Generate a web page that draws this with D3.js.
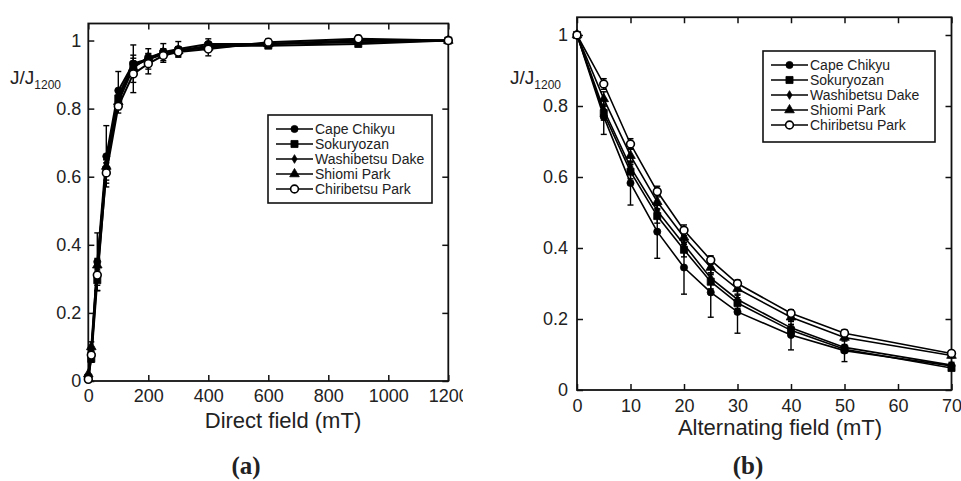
<!DOCTYPE html>
<html>
<head>
<meta charset="utf-8">
<script src="https://cdn.jsdelivr.net/npm/d3@7"></script>
<style>
  body { margin: 0; background: #fff; }
  text { font-family: "Liberation Sans", Arial, sans-serif; fill: #222; }
</style>
</head>
<body>
<div id="chart"></div>
<script>
// ---- data ----
let seriesNames = ["Cape Chikyu", "Sokuryozan", "Washibetsu Dake", "Shiomi Park", "Chiribetsu Park"];
let markerTypes = ["circle", "square", "diamond", "triangle", "open"];

// panel (a): direct field
let directField = [0, 10, 30, 60, 100, 150, 200, 250, 300, 400, 600, 900, 1200];
let directCape = [0.01, 0.08, 0.35, 0.66, 0.853, 0.932, 0.946, 0.966, 0.975, 0.99, 0.99, 1.0, 1];
let directSoku = [0.01, 0.065, 0.296, 0.62, 0.83, 0.928, 0.945, 0.962, 0.97, 0.985, 0.985, 0.99, 1];
let directWashi = [0.012, 0.08, 0.33, 0.64, 0.84, 0.925, 0.945, 0.96, 0.972, 0.98, 0.99, 0.995, 1];
let directShiomi = [0.02, 0.1, 0.34, 0.63, 0.82, 0.92, 0.95, 0.965, 0.97, 0.98, 0.99, 1.0, 1];
let directChiri = [0.005, 0.076, 0.311, 0.611, 0.807, 0.902, 0.932, 0.956, 0.966, 0.975, 0.995, 1.005, 1];
let directErrCape = [0, 0.02, 0.085, 0.09, 0.056, 0.055, 0.03, 0.025, 0.022, 0.015, 0.01, 0.01, 0];
let directErrSoku = [0, 0.01, 0.03, 0.03, 0.02, 0.02, 0.012, 0.01, 0.01, 0.01, 0.008, 0.008, 0];
let directErrWashi = [0, 0.01, 0.02, 0.02, 0.015, 0.015, 0.01, 0.01, 0.01, 0.008, 0.008, 0.008, 0];
let directErrShiomi = [0, 0.015, 0.02, 0.02, 0.015, 0.015, 0.01, 0.01, 0.01, 0.01, 0.008, 0.008, 0];
let directErrChiri = [0, 0.015, 0.03, 0.03, 0.02, 0.055, 0.03, 0.02, 0.015, 0.02, 0.01, 0.01, 0];

// panel (b): alternating field
let altField = [0, 5, 10, 15, 20, 25, 30, 40, 50, 70];
let altCape = [1, 0.77, 0.583, 0.446, 0.345, 0.275, 0.22, 0.155, 0.111, 0.068];
let altSoku = [1, 0.78, 0.615, 0.49, 0.395, 0.305, 0.245, 0.168, 0.115, 0.062];
let altWashi = [1, 0.79, 0.628, 0.505, 0.41, 0.315, 0.255, 0.175, 0.12, 0.07];
let altShiomi = [1, 0.82, 0.66, 0.53, 0.43, 0.345, 0.285, 0.205, 0.148, 0.097];
let altChiri = [1, 0.862, 0.693, 0.559, 0.45, 0.366, 0.3, 0.216, 0.16, 0.103];
let altErrCape = [0, 0.05, 0.062, 0.075, 0.075, 0.07, 0.06, 0.042, 0.031, 0.01];
let altErrSoku = [0, 0.02, 0.02, 0.02, 0.02, 0.02, 0.015, 0.012, 0.01, 0.006];
let altErrWashi = [0, 0.015, 0.015, 0.015, 0.015, 0.015, 0.012, 0.01, 0.008, 0.005];
let altErrShiomi = [0, 0.02, 0.02, 0.02, 0.02, 0.015, 0.015, 0.012, 0.01, 0.006];
let altErrChiri = [0, 0.015, 0.015, 0.015, 0.015, 0.012, 0.01, 0.01, 0.01, 0.006];

// tick labels
let directTicks = [0, 200, 400, 600, 800, 1000, 1200];
let altTicks = [0, 10, 20, 30, 40, 50, 60, 70];
let ratioTicks = [0, 0.2, 0.4, 0.6, 0.8, 1];

// ---- svg ----
let svgWidth = 961;
let svgHeight = 481;

let svg = d3.select("#chart")
    .append("svg")
    .attr("width", svgWidth)
    .attr("height", svgHeight);

// panel (a) gets cut off on the right, like the source image
svg.append("defs").append("clipPath")
    .attr("id", "clipA")
    .append("rect")
    .attr("x", 0).attr("y", 0)
    .attr("width", 463).attr("height", svgHeight);

function markerPath(type) {
    let sym = d3.symbol();
    if (type == "circle") return sym.type(d3.symbolCircle).size(40)();
    if (type == "square") return sym.type(d3.symbolSquare).size(50)();
    if (type == "diamond") return sym.type(d3.symbolDiamond).size(22)();
    if (type == "triangle") return sym.type(d3.symbolTriangle).size(40)();
    return sym.type(d3.symbolCircle).size(48)();
}

function drawMarker(g, type, x, y) {
    g.append("path")
        .attr("d", markerPath(type))
        .attr("transform", `translate(${x},${y})`)
        .attr("fill", type == "open" ? "#fff" : "#000")
        .attr("stroke", "#000")
        .attr("stroke-width", type == "open" ? 1.6 : 0.8);
}

function drawPanel(p) {
    let g = svg.append("g");
    if (p.clip) g.attr("clip-path", `url(#${p.clip})`);

    let x = d3.scaleLinear().domain(p.xDomain).range([p.left, p.right]);
    let y = d3.scaleLinear().domain([0, 1.05]).range([p.bottom, p.top]);

    // axes, ticks pointing inward
    let bottomAxis = d3.axisBottom(x).tickValues(p.xTicks).tickFormat(d => String(d))
        .tickSizeInner(-6).tickSizeOuter(0).tickPadding(p.xPad);
    let leftAxis = d3.axisLeft(y).tickValues(ratioTicks).tickFormat(d => String(d))
        .tickSizeInner(-6).tickSizeOuter(0).tickPadding(p.yPad);
    let topAxis = d3.axisTop(x).tickValues(p.xTicks).tickFormat("").tickSizeInner(-6).tickSizeOuter(0);
    let rightAxis = d3.axisRight(y).tickValues(ratioTicks).tickFormat("").tickSizeInner(-6).tickSizeOuter(0);

    let axes = [
        [bottomAxis, `translate(0,${p.bottom})`],
        [leftAxis, `translate(${p.left},0)`],
        [topAxis, `translate(0,${p.top})`],
        [rightAxis, `translate(${p.right},0)`]
    ];
    axes.forEach(function(a) {
        let ag = g.append("g").attr("transform", a[1]).call(a[0]);
        ag.select(".domain").remove();
        ag.selectAll("line").attr("stroke", "#111").attr("stroke-width", 1.5);
        ag.selectAll("text")
            .style("font-family", '"Liberation Sans", Arial, sans-serif')
            .style("font-size", "18px")
            .attr("fill", "#222");
    });

    // frame
    g.append("rect")
        .attr("x", p.left).attr("y", p.top)
        .attr("width", p.right - p.left).attr("height", p.bottom - p.top)
        .attr("fill", "none").attr("stroke", "#111").attr("stroke-width", 1.8);

    // series
    let line = d3.line().x(d => x(d[0])).y(d => y(d[1]));
    p.series.forEach(function(s, i) {
        let pts = p.xVals.map((v, k) => [v, s[k]]);
        g.append("path")
            .datum(pts)
            .attr("d", line)
            .attr("fill", "none")
            .attr("stroke", "#000")
            .attr("stroke-width", p.lineWidth);

        // error bars
        p.errors[i].forEach(function(e, k) {
            if (e <= 0) return;
            let cx = x(p.xVals[k]);
            let y0 = y(s[k] - e), y1 = y(s[k] + e);
            g.append("line").attr("x1", cx).attr("x2", cx).attr("y1", y0).attr("y2", y1)
                .attr("stroke", "#000").attr("stroke-width", 1.4);
            [y0, y1].forEach(function(yy) {
                g.append("line").attr("x1", cx - 3).attr("x2", cx + 3).attr("y1", yy).attr("y2", yy)
                    .attr("stroke", "#000").attr("stroke-width", 1.4);
            });
        });
    });
    p.series.forEach(function(s, i) {
        p.xVals.forEach(function(v, k) {
            drawMarker(g, markerTypes[i], x(v), y(s[k]));
        });
    });

    // y label J/J1200
    let yl = g.append("text")
        .attr("x", p.labelX).attr("y", 84)
        .style("font-size", "19px");
    yl.append("tspan").text("J/J");
    yl.append("tspan").attr("dy", 5).style("font-size", "12px").text("1200");

    // x axis title
    g.append("text")
        .attr("x", p.titleX).attr("y", p.titleY)
        .attr("text-anchor", "middle")
        .style("font-size", "22px")
        .text(p.title);

    // legend
    let lg = g.append("g");
    lg.append("rect")
        .attr("x", p.legend[0]).attr("y", p.legend[1])
        .attr("width", p.legend[2]).attr("height", p.legend[3])
        .attr("fill", "#fff").attr("stroke", "#111").attr("stroke-width", 1.6);
    seriesNames.forEach(function(name, i) {
        let ry = p.legend[1] + 14 + i * 15;
        let lx = p.legend[0] + 8;
        lg.append("line")
            .attr("x1", lx).attr("x2", lx + 37).attr("y1", ry).attr("y2", ry)
            .attr("stroke", "#000").attr("stroke-width", 1.6);
        drawMarker(lg, markerTypes[i], lx + 18.5, ry);
        lg.append("text")
            .attr("x", lx + 39).attr("y", ry + 5)
            .style("font-size", "14px")
            .text(name);
    });

    // panel letter
    svg.append("text")
        .attr("x", p.letterX).attr("y", 474)
        .attr("text-anchor", "middle")
        .style("font-family", '"Liberation Serif", "Times New Roman", serif')
        .style("font-weight", "bold")
        .style("font-size", "25px")
        .attr("fill", "#000")
        .text(p.letter);
}

drawPanel({
    clip: "clipA",
    xDomain: [0, 1200], xTicks: directTicks, xVals: directField,
    left: 88.3, right: 448.3, top: 23.5, bottom: 381,
    xPad: 8, yPad: 7, lineWidth: 2,
    series: [directCape, directSoku, directWashi, directShiomi, directChiri],
    errors: [directErrCape, directErrSoku, directErrWashi, directErrShiomi, directErrChiri],
    labelX: 10, title: "Direct field (mT)", titleX: 283, titleY: 428,
    legend: [268, 115, 164, 88],
    letter: "(a)", letterX: 246
});

drawPanel({
    clip: null,
    xDomain: [0, 70], xTicks: altTicks, xVals: altField,
    left: 577, right: 951.5, top: 17.25, bottom: 390,
    xPad: 9, yPad: 9, lineWidth: 1.6,
    series: [altCape, altSoku, altWashi, altShiomi, altChiri],
    errors: [altErrCape, altErrSoku, altErrWashi, altErrShiomi, altErrChiri],
    labelX: 510, title: "Alternating field (mT)", titleX: 780, titleY: 435,
    legend: [763, 51, 172, 91],
    letter: "(b)", letterX: 748
});
</script>
</body>
</html>
